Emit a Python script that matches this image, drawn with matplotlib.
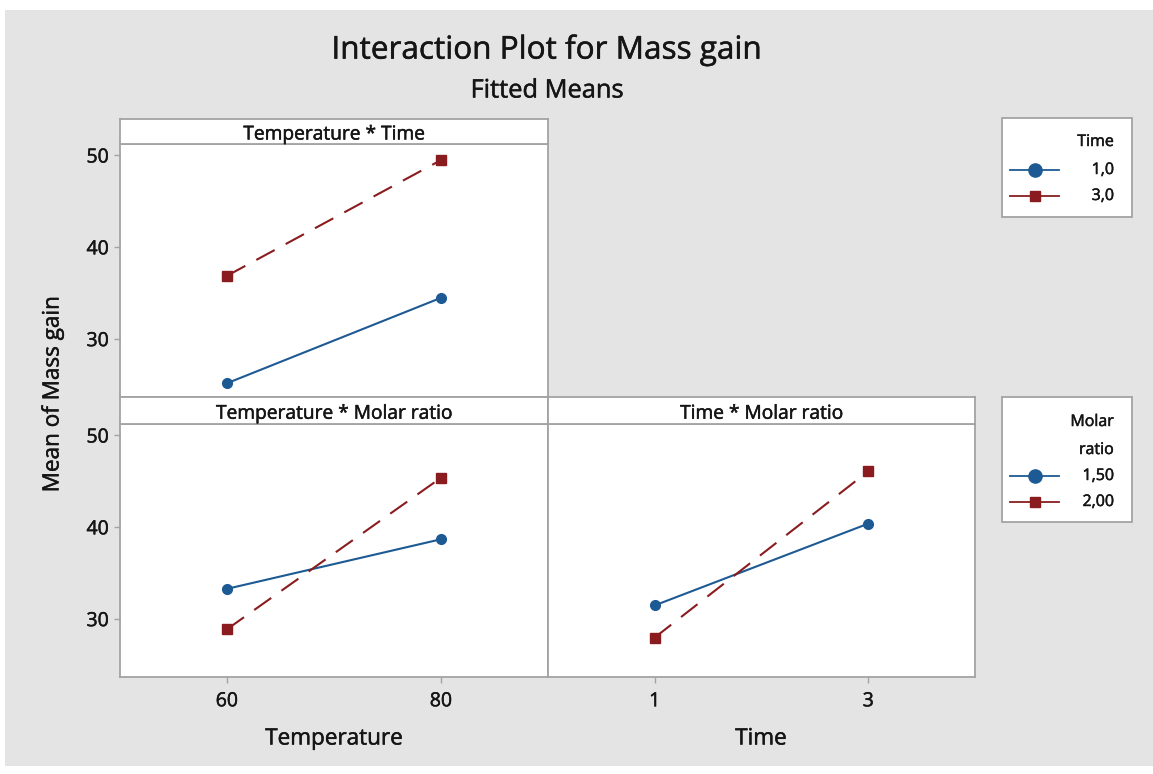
import matplotlib
matplotlib.use("Agg")
import matplotlib.pyplot as plt
import matplotlib.patheffects as pe
from matplotlib.lines import Line2D
from matplotlib.patches import Rectangle

plt.rcParams['font.family'] = ['Open Sans', 'DejaVu Sans']

# ---- data: fitted means ----
temperature_levels = [60, 80]
time_levels = [1, 3]

time_labels = ["1,0", "3,0"]
molar_labels = ["1,50", "2,00"]

# Temperature * Time (rows: Time 1,0 / 3,0)
temp_time_t1 = [25.2, 34.5]
temp_time_t3 = [36.9, 49.5]
# Temperature * Molar ratio (rows: 1,50 / 2,00)
temp_molar_150 = [33.3, 38.7]
temp_molar_200 = [28.9, 45.4]
# Time * Molar ratio (rows: 1,50 / 2,00)
time_molar_150 = [31.5, 40.4]
time_molar_200 = [28.0, 46.1]

y_ticks = [30, 40, 50]

# ---- styling ----
W, H = 1153, 774
BLUE = "#1d5a94"
RED = "#8a1c1f"
BORDER = "#a3a3a3"
BG = "#e4e4e4"
TXT = "#151515"
HEAVY = [pe.withStroke(linewidth=0.35, foreground=TXT)]

fig = plt.figure(figsize=(W / 100, H / 100), dpi=100, facecolor="white")

# grey canvas behind the panels
fig.patches.append(Rectangle((5 / W, 1 - 766 / H), (W - 5) / W, (766 - 10) / H,
                             transform=fig.transFigure, facecolor=BG,
                             edgecolor="none", zorder=-10))


def fx(x):
    return x / W


def fy(y):
    return 1 - y / H


def px_axes(x0, y0, x1, y1, **kw):
    return fig.add_axes([x0 / W, 1 - y1 / H, (x1 - x0) / W, (y1 - y0) / H], **kw)


def style_panel(ax):
    ax.set_facecolor("white")
    for s in ax.spines.values():
        s.set_color(BORDER)
        s.set_linewidth(1.3)
    ax.tick_params(axis="both", length=4, width=1, color=BORDER,
                   labelsize=14, labelcolor=TXT)
    ax.tick_params(axis="y", pad=4)
    ax.tick_params(axis="x", pad=7)


def strip(x0, y0, x1, y1, label):
    sa = px_axes(x0, y0, x1, y1)
    sa.set_facecolor("white")
    for s in sa.spines.values():
        s.set_color(BORDER)
        s.set_linewidth(1.3)
    sa.set_xticks([])
    sa.set_yticks([])
    sa.text(0.5, 0.38, label, ha="center", va="center", fontsize=13.8,
            color=TXT, transform=sa.transAxes, path_effects=HEAVY)
    return sa


def draw_pair(ax, x, y_a, y_b):
    la, = ax.plot(x, y_a, color=BLUE, lw=1.5, marker="o", ms=7,
                  markeredgecolor=BLUE, zorder=3)
    lb, = ax.plot(x, y_b, color=RED, lw=1.5, marker="s", ms=6.5,
                  markeredgecolor=RED, dashes=(10, 6), zorder=3)
    return la, lb


def heavier_ticks(ax):
    for t in ax.get_xticklabels() + ax.get_yticklabels():
        t.set_path_effects(HEAVY)


YLIM = (23.7, 51.25)
L, M, R = 120, 548, 975
T1, S1, B1 = 119, 144, 397
T2, S2, B2 = 397, 424, 677

# Temperature * Time
ax1 = px_axes(L, S1, M, B1)
style_panel(ax1)
draw_pair(ax1, temperature_levels, temp_time_t1, temp_time_t3)
ax1.set_xlim(50, 90)
ax1.set_ylim(*YLIM)
ax1.set_yticks(y_ticks)
ax1.set_xticks([])
heavier_ticks(ax1)
strip(L, T1, M, S1, "Temperature * Time")

# Temperature * Molar ratio
ax2 = px_axes(L, S2, M, B2)
style_panel(ax2)
draw_pair(ax2, temperature_levels, temp_molar_150, temp_molar_200)
ax2.set_xlim(50, 90)
ax2.set_ylim(*YLIM)
ax2.set_yticks(y_ticks)
ax2.set_xticks(temperature_levels)
heavier_ticks(ax2)
strip(L, T2, M, S2, "Temperature * Molar ratio")

# Time * Molar ratio
ax3 = px_axes(M, S2, R, B2)
style_panel(ax3)
draw_pair(ax3, time_levels, time_molar_150, time_molar_200)
ax3.set_xlim(0, 4)
ax3.set_ylim(*YLIM)
ax3.set_yticks([])
ax3.set_xticks(time_levels)
heavier_ticks(ax3)
strip(M, T2, R, S2, "Time * Molar ratio")

# titles and axis labels
fig.text(fx(547), fy(50), "Interaction Plot for Mass gain", ha="center",
         va="center", fontsize=22.7, color=TXT, path_effects=HEAVY)
fig.text(fx(547), fy(91), "Fitted Means", ha="center", va="center",
         fontsize=18.3, color=TXT, path_effects=HEAVY)
fig.text(fx(53), fy(394), "Mean of Mass gain", ha="center", va="center",
         rotation=90, fontsize=16.2, color=TXT, path_effects=HEAVY)
fig.text(fx(334), fy(739), "Temperature", ha="center", va="center",
         fontsize=16.2, color=TXT, path_effects=HEAVY)
fig.text(fx(761), fy(739), "Time", ha="center", va="center",
         fontsize=16.2, color=TXT, path_effects=HEAVY)


# legends: white box, right-aligned title lines, swatch + label rows
def legend_box(x0, y0, x1, y1, title_lines, title_ys, labels, row_ys):
    fig.patches.append(Rectangle((fx(x0), fy(y1)), (x1 - x0) / W, (y1 - y0) / H,
                                 transform=fig.transFigure, facecolor="white",
                                 edgecolor=BORDER, lw=1.3, zorder=1))
    for line, ty in zip(title_lines, title_ys):
        fig.text(fx(1114), fy(ty), line, ha="right", va="center",
                 fontsize=11.5, color=TXT, zorder=3, path_effects=HEAVY)
    styles = [(BLUE, "o", 9.5), (RED, "s", 6.5)]
    for (col, mk, ms), lab, ry in zip(styles, labels, row_ys):
        fig.lines.append(Line2D([fx(1010), fx(1059)], [fy(ry), fy(ry)],
                                transform=fig.transFigure, color=col, lw=1.3,
                                zorder=3))
        fig.lines.append(Line2D([fx(1035)], [fy(ry)], transform=fig.transFigure,
                                color=col, marker=mk, ms=ms,
                                markeredgecolor=col, lw=0, zorder=4))
        fig.text(fx(1114), fy(ry), lab, ha="right", va="center",
                 fontsize=11.5, color=TXT, zorder=3, path_effects=HEAVY)


legend_box(1002, 118, 1132, 217, ["Time"], [142], time_labels, [170, 196])
legend_box(1002, 397, 1132, 522, ["Molar", "ratio"], [422, 450],
           molar_labels, [476, 502])

fig.savefig("out.png", dpi=100, facecolor=fig.get_facecolor())
